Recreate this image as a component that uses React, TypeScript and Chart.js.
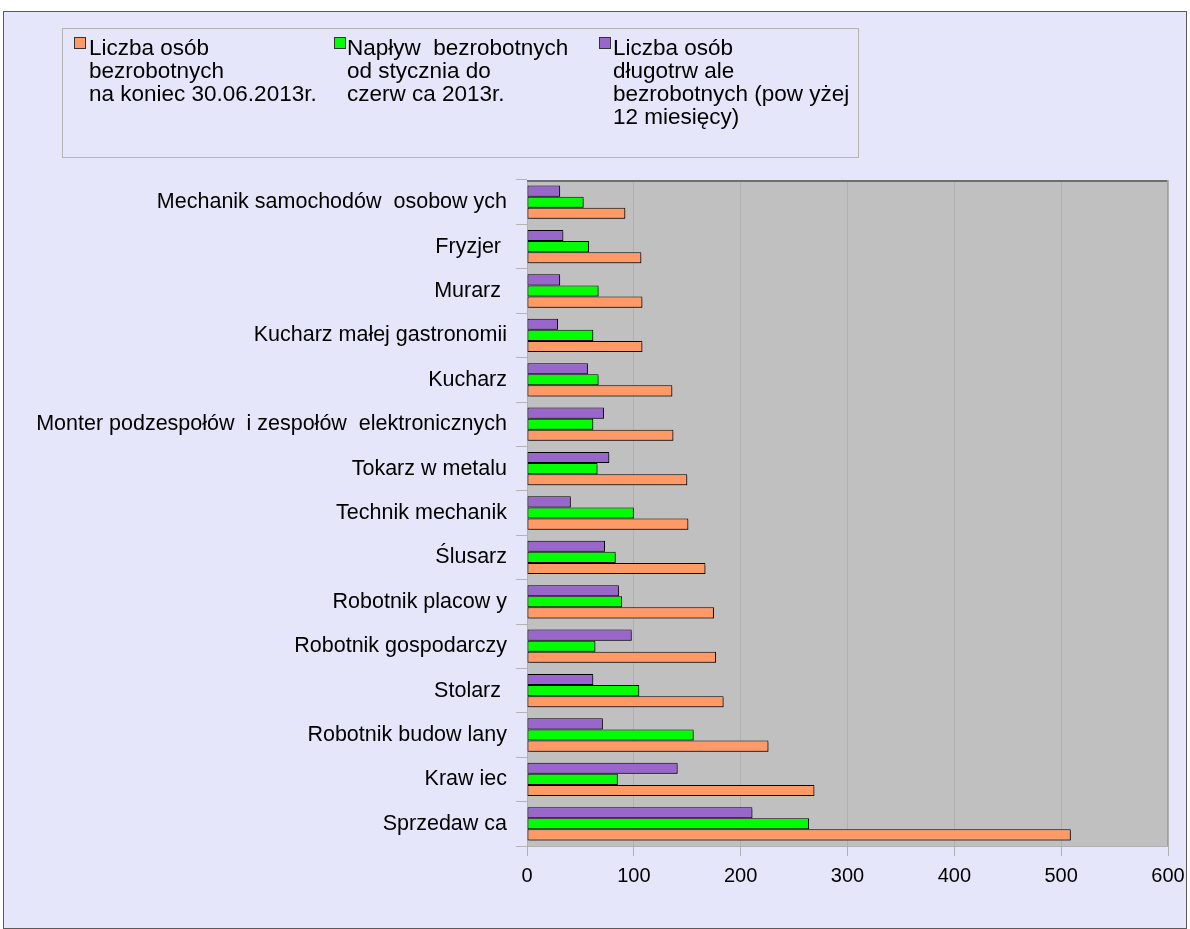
import React, { useEffect, useRef } from "react";
import { Chart, registerables } from "chart.js";

Chart.register(...registerables);

const categories = [
  "Mechanik samochodów  osobow ych",
  "Fryzjer ",
  "Murarz ",
  "Kucharz małej gastronomii",
  "Kucharz",
  "Monter podzespołów  i zespołów  elektronicznych",
  "Tokarz w metalu",
  "Technik mechanik",
  "Ślusarz",
  "Robotnik placow y",
  "Robotnik gospodarczy",
  "Stolarz ",
  "Robotnik budow lany",
  "Kraw iec",
  "Sprzedaw ca",
];

const unemployedEnd = [92, 107, 108, 108, 136, 137, 150, 151, 167, 175, 177, 184, 226, 269, 509];
const inflowJanJun = [53, 58, 67, 62, 67, 62, 66, 100, 83, 89, 64, 105, 156, 85, 264];
const longTerm = [31, 34, 31, 29, 57, 72, 77, 41, 73, 86, 98, 62, 71, 141, 211];

const xTicks = [0, 100, 200, 300, 400, 500, 600];

const seriesNames = [
  ["Liczba osób", "bezrobotnych", "na koniec 30.06.2013r."],
  ["Napływ  bezrobotnych", "od stycznia do", "czerw ca 2013r."],
  ["Liczba osób", "długotrw ale", "bezrobotnych (pow yżej", "12 miesięcy)"],
];

const ORANGE = "#FF9966";
const GREEN = "#00FF00";
const PURPLE = "#9966CC";
const FONT = "'Liberation Sans', Arial, sans-serif";

const plotPlugin = {
  id: "plotDecor",
  beforeDraw(chart: any) {
    const { ctx, chartArea: a } = chart;
    ctx.save();
    ctx.fillStyle = "#C0C0C0";
    ctx.fillRect(a.left, a.top, a.right - a.left, a.bottom - a.top);
    ctx.restore();
  },
  beforeDatasetsDraw(chart: any) {
    const ctx = chart.ctx;
    ctx.save();
    ctx.shadowColor = "rgba(0,0,0,0.35)";
    ctx.shadowOffsetX = 2;
    ctx.shadowOffsetY = 2;
    ctx.shadowBlur = 0;
  },
  afterDatasetsDraw(chart: any) {
    const { ctx, chartArea: a } = chart;
    ctx.restore();
    ctx.save();
    ctx.fillStyle = "#6E6E6E";
    ctx.fillRect(a.left, a.top, a.right - a.left, 2);
    ctx.fillStyle = "#A0A0A0";
    ctx.fillRect(a.right - 1, a.top, 1, a.bottom - a.top);
    ctx.restore();
  },
};

function ChartCanvas() {
  const ref = useRef<HTMLCanvasElement>(null);
  useEffect(() => {
    if (!ref.current) return;
    const chart = new Chart(ref.current, {
      type: "bar",
      data: {
        labels: categories,
        datasets: [
          { label: seriesNames[2].join(" "), data: longTerm, backgroundColor: PURPLE },
          { label: seriesNames[1].join(" "), data: inflowJanJun, backgroundColor: GREEN },
          { label: seriesNames[0].join(" "), data: unemployedEnd, backgroundColor: ORANGE },
        ].map((d) => ({
          ...d,
          borderColor: "#000000",
          borderWidth: 1,
          borderSkipped: false,
          categoryPercentage: 0.75,
          barPercentage: 1,
        })),
      },
      options: {
        indexAxis: "y",
        responsive: false,
        animation: false,
        devicePixelRatio: 1,
        layout: { padding: { left: 0, top: 180, right: 22, bottom: 0 } },
        plugins: { legend: { display: false }, tooltip: { enabled: false } },
        scales: {
          x: {
            min: 0,
            max: 600,
            afterBuildTicks: (scale: any) => {
              scale.ticks = xTicks.map((v) => ({ value: v }));
            },
            afterFit: (scale: any) => {
              scale.height = 83;
              scale.paddingLeft = 0;
              scale.paddingRight = 0;
            },
            grid: { color: "#B0B0B0", tickLength: 10, lineWidth: 1 },
            border: { display: true, color: "#B0B0B0" },
            ticks: {
              color: "#000000",
              padding: 8,
              maxRotation: 0,
              font: { family: FONT, size: 20 },
            },
          },
          y: {
            afterFit: (scale: any) => {
              scale.width = 527;
              scale.paddingTop = 0;
              scale.paddingBottom = 0;
            },
            grid: {
              drawOnChartArea: false,
              color: "#B4B4B4",
              tickLength: 11,
              offset: true,
            },
            border: { display: false },
            ticks: {
              color: "#000000",
              padding: 9,
              autoSkip: false,
              font: { family: FONT, size: 21.5 },
            },
          },
        },
      },
      plugins: [plotPlugin],
    } as any);
    return () => chart.destroy();
  }, []);
  return (
    <canvas
      ref={ref}
      width={1190}
      height={929}
      style={{ position: "absolute", left: 0, top: 0, width: 1190, height: 929 }}
    />
  );
}

const legendCols = [
  { markerLeft: 11, textLeft: 26, color: ORANGE, lines: seriesNames[0] },
  { markerLeft: 271, textLeft: 284, color: GREEN, lines: seriesNames[1] },
  { markerLeft: 536, textLeft: 550, color: PURPLE, lines: seriesNames[2] },
];

export default function App() {
  return (
    <div style={{ position: "absolute", left: 0, top: 0, width: 1190, height: 929, overflow: "hidden" }}>
      <div
        style={{
          position: "absolute",
          left: 3,
          top: 11,
          width: 1184,
          height: 918,
          boxSizing: "border-box",
          border: "1px solid #5A5A5A",
          background: "#E6E6FA",
        }}
      />
      <ChartCanvas />
      <div
        style={{
          position: "absolute",
          left: 62,
          top: 28,
          width: 797,
          height: 130,
          boxSizing: "border-box",
          border: "1px solid #B4B4B4",
          fontFamily: FONT,
          fontSize: 22.5,
          color: "#000",
        }}
      >
        {legendCols.map((c, i) => (
          <React.Fragment key={i}>
            <div
              style={{
                position: "absolute",
                left: c.markerLeft,
                top: 8,
                width: 12,
                height: 12,
                boxSizing: "border-box",
                border: "1px solid #333",
                background: c.color,
              }}
            />
            <div
              style={{
                position: "absolute",
                left: c.textLeft,
                top: 7,
                lineHeight: "23px",
                whiteSpace: "pre",
              }}
            >
              {c.lines.join("\n")}
            </div>
          </React.Fragment>
        ))}
      </div>
    </div>
  );
}
